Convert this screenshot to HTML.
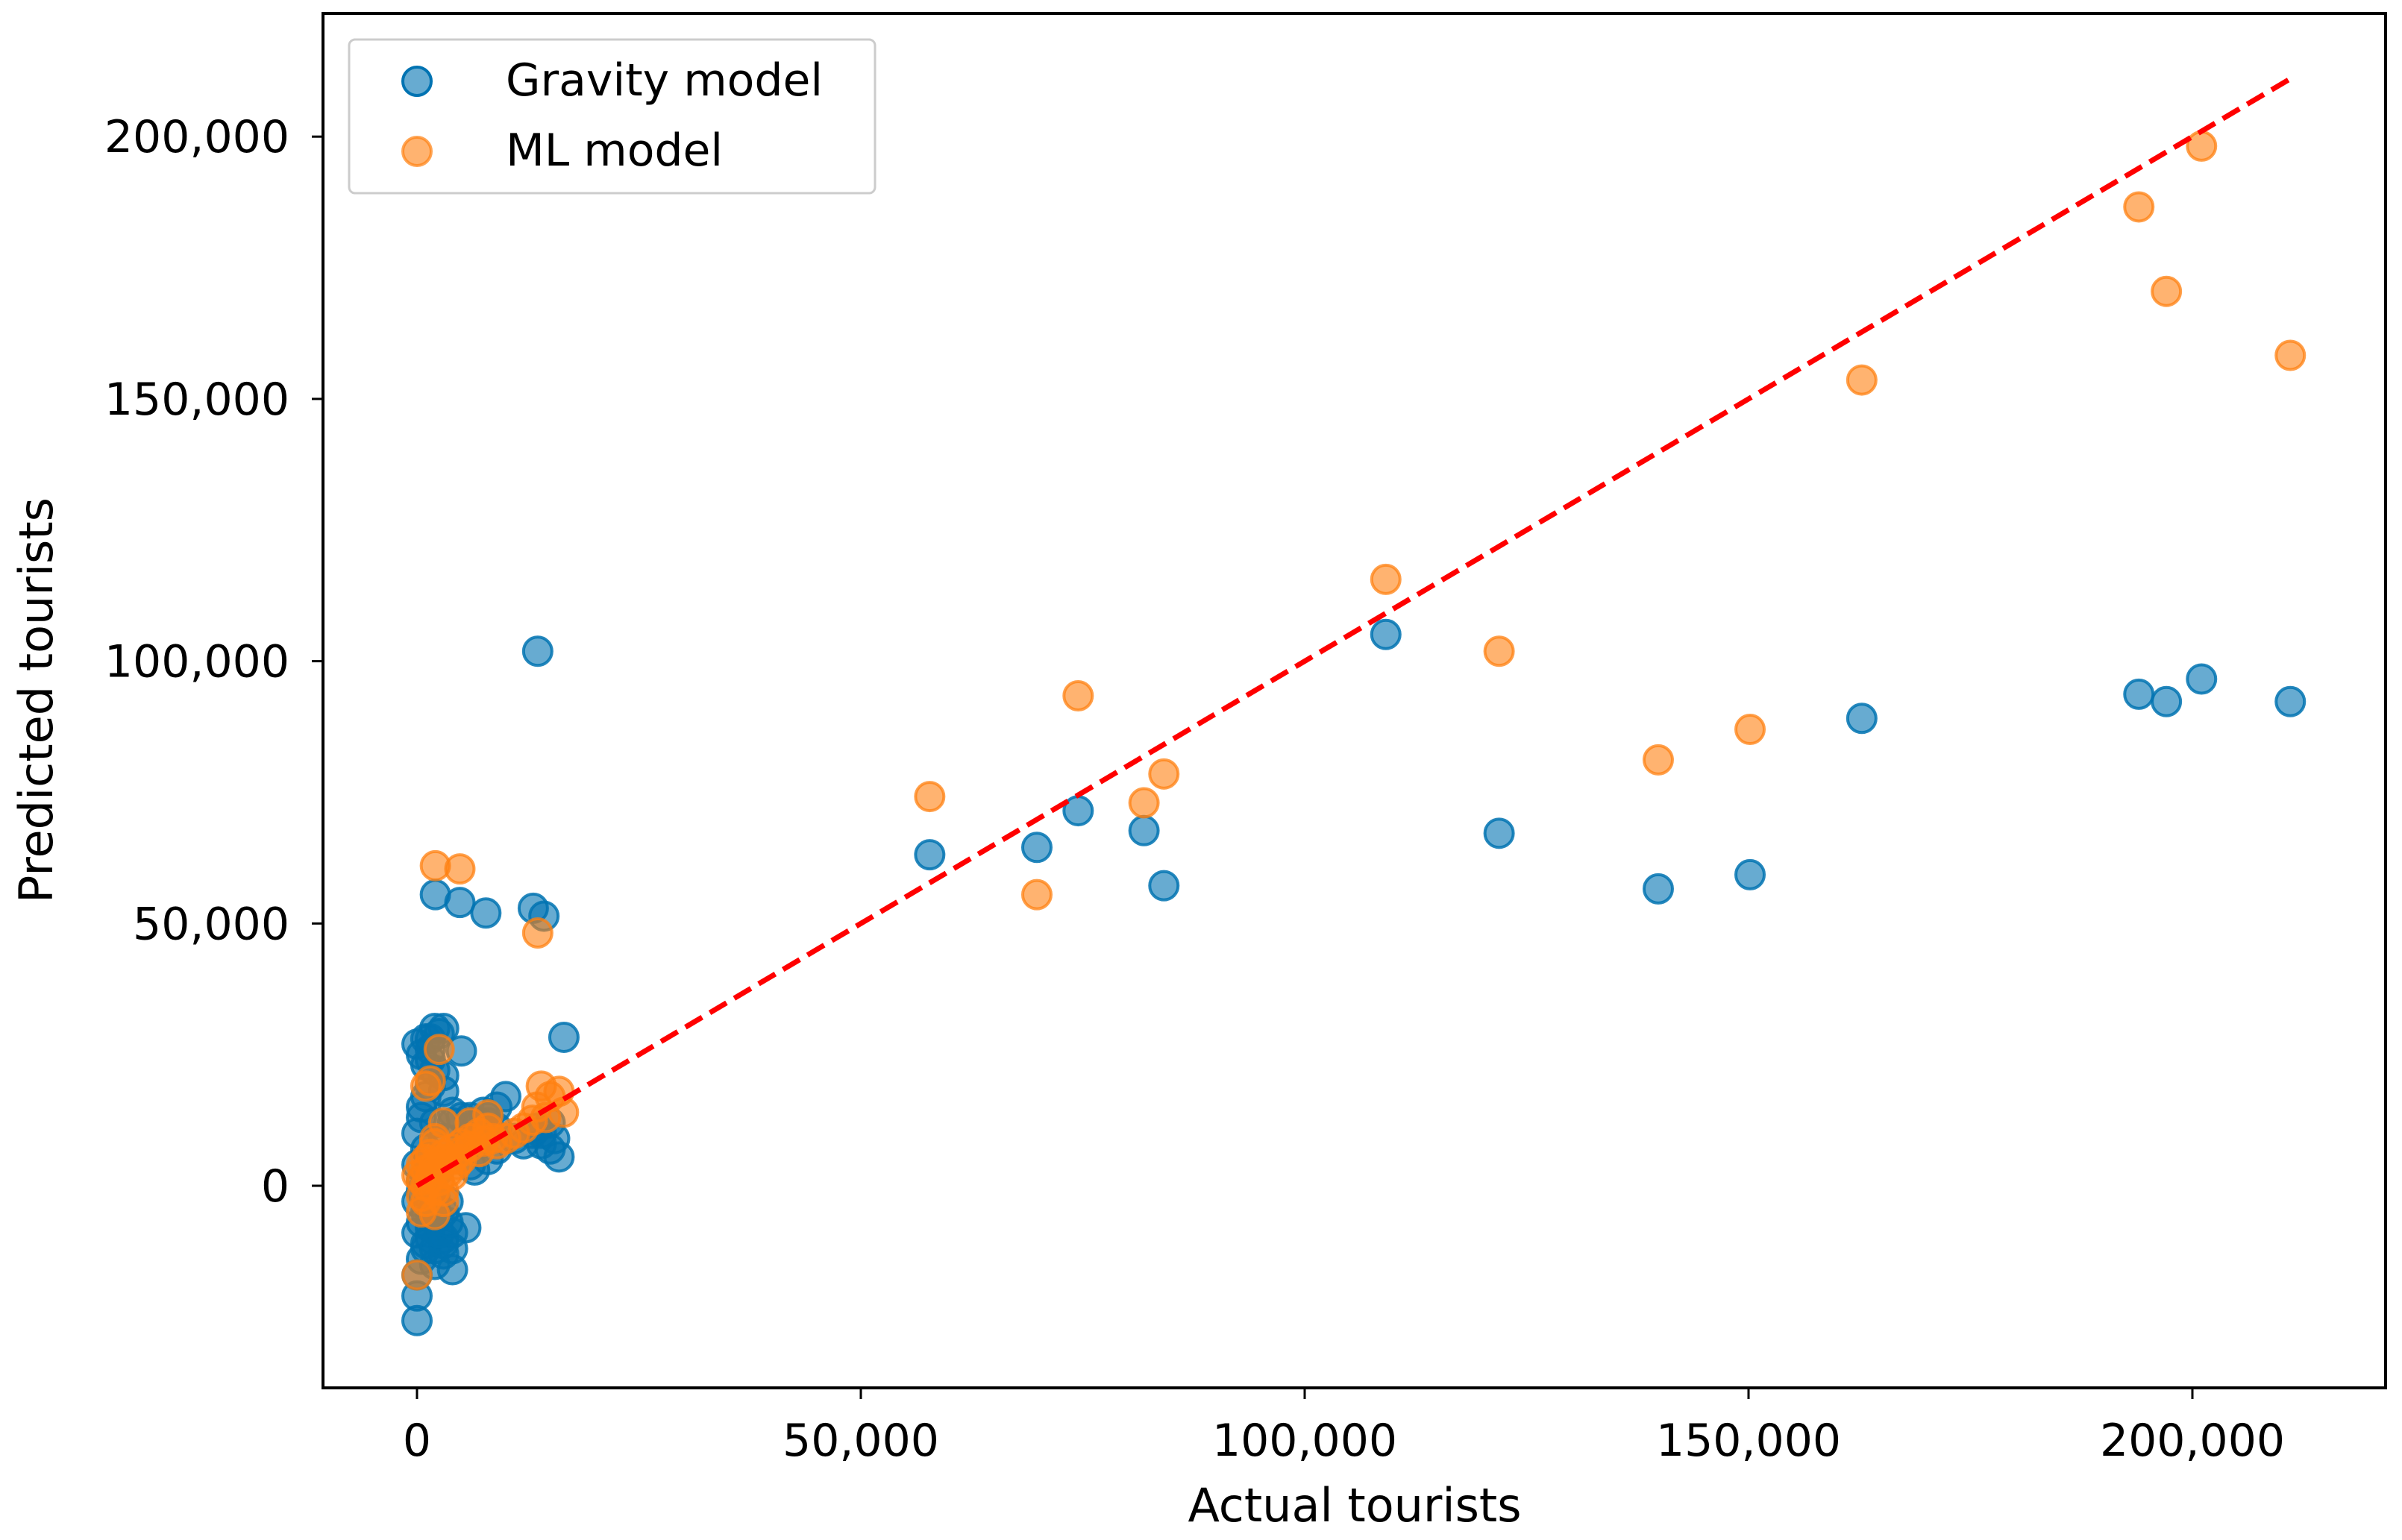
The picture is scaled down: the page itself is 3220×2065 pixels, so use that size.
<!DOCTYPE html>
<html><head><meta charset="utf-8">
<style>
html,body{margin:0;padding:0;background:#fff;}
svg{display:block;font-family:"DejaVu Sans","Liberation Sans",sans-serif;}
</style></head>
<body>
<svg id="chart" width="3220" height="2065" viewBox="0 0 3220 2065" xmlns="http://www.w3.org/2000/svg">
  <rect x="433" y="18" width="2765" height="1843" fill="#fff" stroke="#000" stroke-width="4"/>
  <g id="ticks"></g>
  <g id="marks"></g>
  <text x="1816" y="2040" font-size="62" text-anchor="middle">Actual tourists</text>
  <text x="0" y="0" font-size="62" text-anchor="middle" transform="translate(70,939) rotate(-90)">Predicted tourists</text>
  <g>
    <rect x="468" y="53" width="705" height="206" rx="8" fill="#fff" fill-opacity="0.8" stroke="#ccc" stroke-width="3"/>
    <g>
      <circle cx="559" cy="109" r="19" fill="#0173b2" fill-opacity="0.6" stroke="#0173b2" stroke-width="4"/>
      <text x="678" y="128" font-size="60">Gravity model</text>
    </g>
    <g>
      <circle cx="559" cy="203" r="19" fill="#ff8010" fill-opacity="0.6" stroke="#ff8010" stroke-opacity="0.7" stroke-width="4"/>
      <text x="678" y="222" font-size="60">ML model</text>
    </g>
  </g>
</svg>
<script>
const xTicks = [0, 50000, 100000, 150000, 200000];
const yTicks = [0, 50000, 100000, 150000, 200000];
const tickLabels = ["0", "50,000", "100,000", "150,000", "200,000"];
const gravityX = [13600,2070,4830,7760,13100,14300,16550,57760,69830,74480,81900,84140,109140,121900,139830,150170,162760,193970,197070,201030,211030,
0,0,0,500,1000,0,1500,2500,4000,5500,3000,1000,0,2000,500,0,1000,3000,0,500,1000,1500,0,1000,2000,3000,1500,5000,6000,7000,8000,9000,10000,6000,7500,4500,2500,3500,4000,13000,14000,15000,16000,15500,12000,11000,9000,8000,6500,2000,1500,3000,500,2000,4000,3000,
1000,2000,3000,4000,1500,2500,3500,500,1000,2000,3000,500,1500,2500,4000,5000,6000,7000,8000,9000,1000,2000,3000,500,1500,14000,15000,13500];
const gravityY = [101900,55500,54000,52000,52900,51400,28300,63100,64500,71500,67700,57200,105100,67200,56600,59300,89100,93700,92300,96600,92300,
-25700,-21000,-17000,-14000,-12000,-9000,-8000,-6000,-16000,-8000,-13000,-5000,-3000,-2000,1000,4000,7000,9000,10000,13000,17000,19000,27000,28000,30000,30000,26000,25700,4000,8000,12000,15000,17000,11000,14000,6000,3000,-3000,-9000,10000,8000,7000,5500,9000,8000,9000,7000,5000,3000,-15000,-10000,-10000,-7000,12000,12000,18000,
-11000,-12000,-11000,-12000,-6000,-9000,-7000,-1000,2000,-4000,-5000,15000,28000,29000,14000,13000,13000,12000,13000,11000,23000,22000,21000,25000,24000,10000,12000,11000];
const mlX = [2070,4830,13600,57760,69830,74480,81900,84140,109140,121900,139830,150170,162760,193970,197070,201030,211030,
0,500,2000,1000,0,500,1500,3000,2000,4000,5000,6000,7000,8000,9000,10000,8000,6000,1000,1500,2500,3000,2000,4000,3000,500,13500,14000,15000,16000,16500,14500,13000,5000,7000,12000,
1000,2000,3000,4000,5000,6000,1500,2500,3500,4500,500,1000,2000,3000,7500,8500,11000,1000,2000];
const mlY = [61000,60400,48200,74200,55500,93400,73000,78500,115600,101900,81200,87000,153600,186600,170500,198200,158300,
-17000,-5000,-5500,0,2000,4000,6000,5000,8000,7000,8000,9000,10000,11000,8000,9000,13500,12000,19000,20000,26000,12000,3000,2000,-1000,1000,15000,19000,17000,18000,14000,13000,12500,5000,6500,11000,
3000,4000,6000,5000,6500,7500,1500,1000,2500,4000,-2000,-3000,-1000,-3000,8500,9000,10000,5000,9000];
const refLine = [0, 211000];

const NS = "http://www.w3.org/2000/svg";
function X(v){ return 559 + v * (595 / 50000); }
function Y(v){ return 1590 - v * (351.7 / 50000); }

const ticksG = document.getElementById('ticks');
xTicks.forEach((t, i) => {
  const l = document.createElementNS(NS, 'line');
  
  
  l.setAttribute('x1', X(t)); l.setAttribute('x2', X(t));
  l.setAttribute('y1', 1861); l.setAttribute('y2', 1876);
  l.setAttribute('stroke', '#000'); l.setAttribute('stroke-width', 3);
  ticksG.appendChild(l);
  const tx = document.createElementNS(NS, 'text');
  
  
  tx.setAttribute('x', X(t)); tx.setAttribute('y', 1952);
  tx.setAttribute('font-size', 60); tx.setAttribute('text-anchor', 'middle');
  tx.textContent = tickLabels[i];
  ticksG.appendChild(tx);
});
yTicks.forEach((t, i) => {
  const l = document.createElementNS(NS, 'line');
  
  
  l.setAttribute('x1', 418); l.setAttribute('x2', 433);
  l.setAttribute('y1', Y(t)); l.setAttribute('y2', Y(t));
  l.setAttribute('stroke', '#000'); l.setAttribute('stroke-width', 3);
  ticksG.appendChild(l);
  const tx = document.createElementNS(NS, 'text');
  
  
  tx.setAttribute('x', 388); tx.setAttribute('y', Y(t) + 21);
  tx.setAttribute('font-size', 60); tx.setAttribute('text-anchor', 'end');
  tx.textContent = tickLabels[i];
  ticksG.appendChild(tx);
});

const marks = document.getElementById('marks');
gravityX.forEach((v, i) => {
  const c = document.createElementNS(NS, 'circle');
  
  
  c.setAttribute('cx', X(v)); c.setAttribute('cy', Y(gravityY[i])); c.setAttribute('r', 19);
  c.setAttribute('fill', '#0173b2'); c.setAttribute('fill-opacity', 0.6);
  c.setAttribute('stroke', '#0173b2'); c.setAttribute('stroke-opacity', 0.85); c.setAttribute('stroke-width', 4);
  marks.appendChild(c);
});
mlX.forEach((v, i) => {
  const c = document.createElementNS(NS, 'circle');
  
  
  c.setAttribute('cx', X(v)); c.setAttribute('cy', Y(mlY[i])); c.setAttribute('r', 19);
  c.setAttribute('fill', '#ff8010'); c.setAttribute('fill-opacity', 0.6);
  c.setAttribute('stroke', '#ff8010'); c.setAttribute('stroke-opacity', 0.75); c.setAttribute('stroke-width', 4);
  marks.appendChild(c);
});
const ln = document.createElementNS(NS, 'line');


ln.setAttribute('x1', X(refLine[0])); ln.setAttribute('y1', Y(refLine[0]));
ln.setAttribute('x2', X(refLine[1])); ln.setAttribute('y2', Y(refLine[1]));
ln.setAttribute('stroke', '#ff0000'); ln.setAttribute('stroke-width', 7);
ln.setAttribute('stroke-dasharray', '26 12');
marks.appendChild(ln);
</script>
</body></html>
